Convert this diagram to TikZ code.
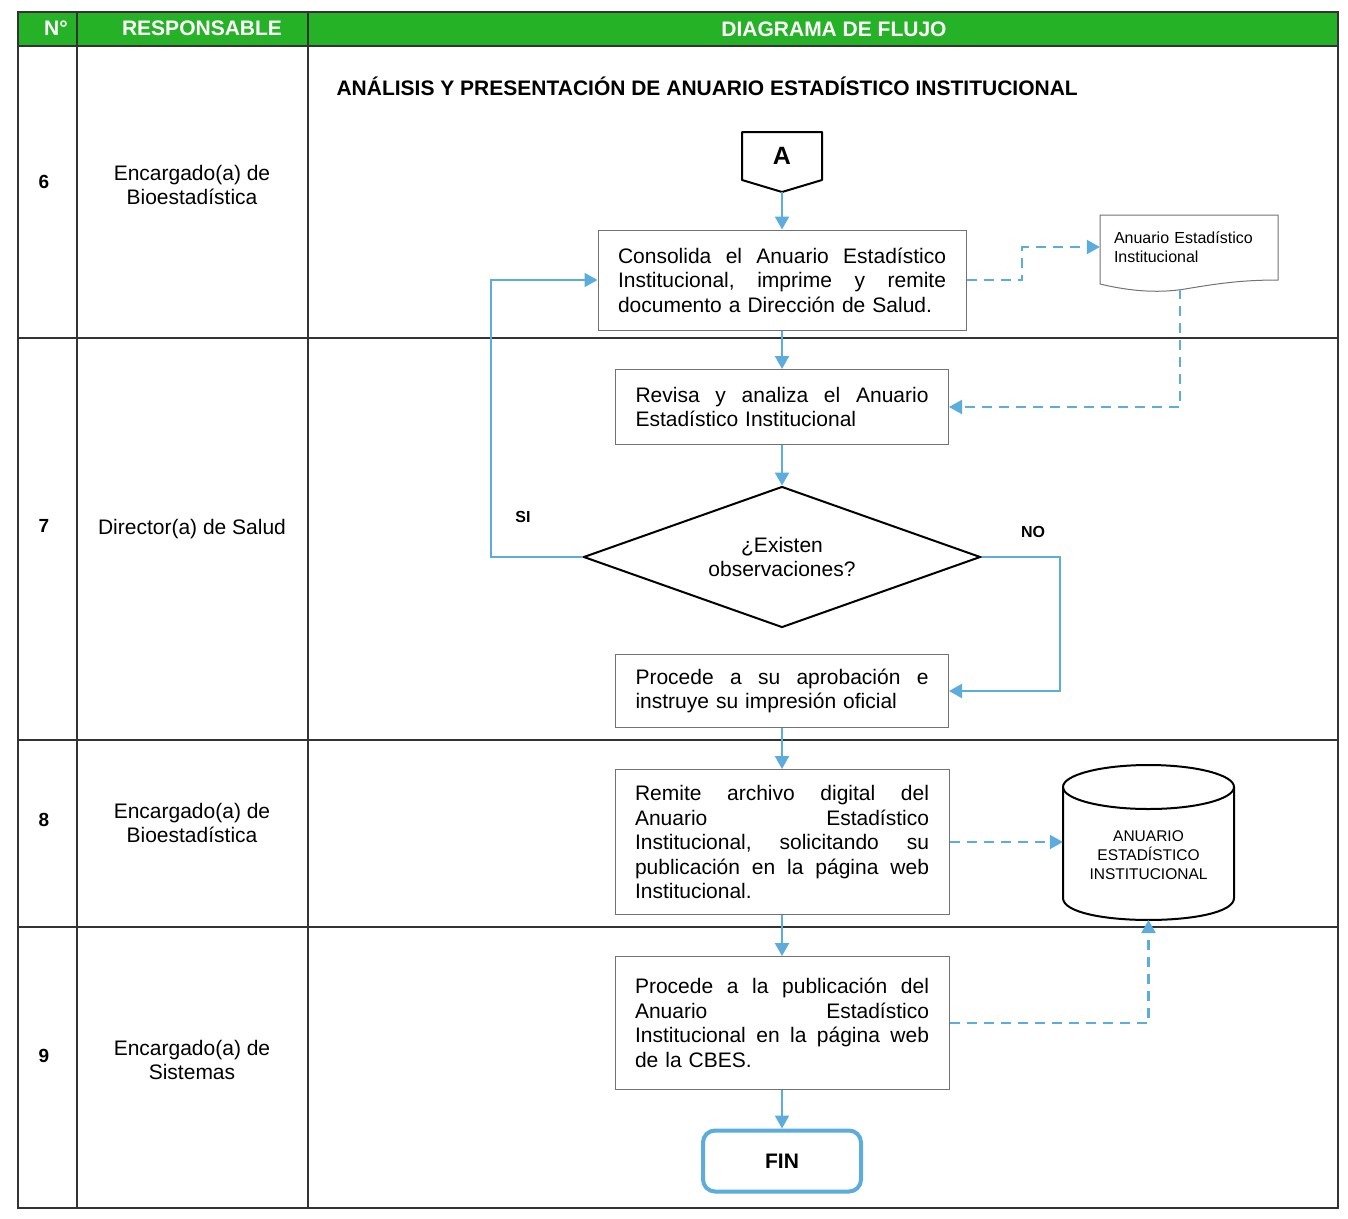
\documentclass[tikz,border=0pt]{standalone}
\usepackage{fontspec}
\setmainfont{Liberation Sans}
\usetikzlibrary{arrows.meta,shapes.geometric}
\definecolor{hdrgreen}{RGB}{38,178,38}
\definecolor{flowblue}{RGB}{92,172,222}
\definecolor{boxgray}{RGB}{115,115,115}
\newcommand\jl[2]{\leavevmode\hbox to #1{#2}}
\begin{document}
\begin{tikzpicture}[x=1pt,y=-1pt,
 procbox/.style={draw=boxgray, line width=1pt, rectangle, inner xsep=20pt, inner ysep=4pt, align=left, font=\fontsize{21}{24.5}\selectfont},
 flow/.style={draw=flowblue, line width=2.2pt, -{Triangle[length=13pt,width=14pt]}},
 dflow/.style={flow, dash pattern=on 10pt off 7pt},
 grid/.style={draw=black!80, line width=1.2pt},
 hdr/.style={text=white, font=\bfseries\fontsize{21}{24}\selectfont},
 lbl/.style={align=center, font=\fontsize{21}{24}\selectfont},
 num/.style={font=\bfseries\fontsize{19}{22}\selectfont},
 shapeline/.style={draw=black, line width=2pt},
]
\useasboundingbox (0,0) rectangle (1348,1218);
\fill[white] (0,0) rectangle (1348,1218);

% table
\fill[hdrgreen] (18,12) rectangle (1338,46);
\draw[grid] (18,12) rectangle (1338,1208);
\foreach \yy in {46,338,740,927} \draw[grid] (18,\yy) -- (1338,\yy);
\foreach \xx in {77,308} \draw[grid] (\xx,12) -- (\xx,1208);

\node[hdr] (hN) at (56,28) {N°};
\node[hdr] (hR) at (202,28) {RESPONSABLE};
\node[hdr] (hD) at (834,29) {DIAGRAMA DE FLUJO};

\node[anchor=west, font=\bfseries\fontsize{21}{24}\selectfont] (title) at (333,86) {ANÁLISIS Y PRESENTACIÓN DE ANUARIO ESTADÍSTICO INSTITUCIONAL};

% row labels
\node[num, anchor=west] (n6) at (35,182) {6};
\node[lbl] (r6) at (192,185) {Encargado(a) de\\Bioestadística};
\node[num, anchor=west] (n7) at (35,526) {7};
\node[lbl] (r7) at (192,529) {Director(a) de Salud};
\node[num, anchor=west] (n8) at (35,820) {8};
\node[lbl] (r8) at (192,823) {Encargado(a) de\\Bioestadística};
\node[num, anchor=west] (n9) at (35,1056) {9};
\node[lbl] (r9) at (192,1060) {Encargado(a) de\\Sistemas};

% connector A
\node[minimum width=80pt, minimum height=48pt, inner sep=0, font=\bfseries\fontsize{25}{28}\selectfont] (A) at (782,156) {A};
\draw[shapeline, line join=round] (742,132) -- (822,132) -- (822,180) -- (782,192) -- (742,180) -- cycle;
\coordinate (Atip) at (782,192);

% process boxes
\node[procbox, text width=328pt, minimum height=100pt] (b1) at (782,280)
 {\jl{328pt}{Consolida\hfill el\hfill Anuario\hfill Estadístico}\\\jl{328pt}{Institucional,\hfill imprime\hfill y\hfill remite}\\documento a Dirección de Salud.};
\node[procbox, text width=293pt, minimum height=75pt] (b2) at (782,407)
 {\jl{293pt}{Revisa\hfill y\hfill analiza\hfill el\hfill Anuario}\\Estadístico Institucional};
\node[draw=black, line width=2pt, diamond, aspect=2.8, inner sep=0, minimum width=397pt, minimum height=141pt, align=center, font=\fontsize{21}{24.5}\selectfont] (dia) at (782,557)
 {¿Existen\\observaciones?};
\node[procbox, text width=293pt, minimum height=73pt] (b3) at (782,691)
 {\jl{293pt}{Procede\hfill a\hfill su\hfill aprobación\hfill e}\\instruye su impresión oficial};
\node[procbox, text width=294pt, minimum height=145pt] (b4) at (782,842)
 {\jl{294pt}{Remite\hfill archivo\hfill digital\hfill del}\\\jl{294pt}{Anuario\hfill Estadístico}\\\jl{294pt}{Institucional,\hfill solicitando\hfill su}\\\jl{294pt}{publicación\hfill en\hfill la\hfill página\hfill web}\\Institucional.};
\node[procbox, text width=294pt, minimum height=133pt] (b5) at (782,1023)
 {\jl{294pt}{Procede\hfill a\hfill la\hfill publicación\hfill del}\\\jl{294pt}{Anuario\hfill Estadístico}\\\jl{294pt}{Institucional\hfill en\hfill la\hfill página\hfill web}\\de la CBES.};
\node[draw=flowblue, line width=4pt, rounded corners=12pt, minimum width=158pt, minimum height=61pt, font=\bfseries\fontsize{21}{24}\selectfont] (fin) at (782,1161) {FIN};

% document
\node[minimum width=178pt, minimum height=66pt, inner sep=0, text width=150pt, align=left, font=\fontsize{16}{19}\selectfont] (doc) at (1189,247)
 {Anuario Estadístico\\Institucional};
\draw[draw=boxgray, line width=1pt] (1100,215) -- (1278,215) -- (1278,280)
 .. controls (1240,280) and (1215,284) .. (1185,289)
 .. controls (1155,294) and (1125,290) .. (1100,284) -- cycle;
\coordinate (docb) at (1180,289);

% cylinder
\node[minimum width=171pt, minimum height=120pt, inner sep=0, align=center, font=\fontsize{15.5}{19}\selectfont] (cyl) at (1148.5,855)
 {ANUARIO\\ESTADÍSTICO\\INSTITUCIONAL};
\draw[shapeline] (1148.5,787) ellipse [x radius=85.5, y radius=22];
\draw[shapeline] (1063,787) -- (1063,898) .. controls (1063,927.3) and (1234,927.3) .. (1234,898) -- (1234,787);

% labels
\node[font=\bfseries\fontsize{16}{18}\selectfont] (si) at (523,517) {SI};
\node[font=\bfseries\fontsize{16}{18}\selectfont] (no) at (1033,532) {NO};

% flow arrows
\draw[flow] (Atip) -- (b1.north);
\draw[flow] (b1.south) -- (b2.north);
\draw[flow] (b2.south) -- (dia.north);
\draw[flow] (b3.south) -- (b4.north);
\draw[flow] (b4.south) -- (b5.north);
\draw[flow] (b5.south) -- (fin.north);
\coordinate (loopL) at (491,0);
\coordinate (loopR) at (1060,0);
\draw[flow] (dia.west) -- (dia.west -| loopL) |- (b1.west);
\draw[flow] (dia.east) -- (dia.east -| loopR) |- (b3.east);

% dashed flows
\coordinate (d1) at (1022,0);
\draw[dflow] (b1.east) -- (b1.east -| d1) |- (doc.west);
\draw[dflow] (docb) |- (b2.east);
\draw[dflow] (b4.east) -- (b4.east -| cyl.west);
\coordinate (cylb) at (1148.5,920);
\draw[dflow] (b5.east) -| (cylb);
\end{tikzpicture}
\end{document}
